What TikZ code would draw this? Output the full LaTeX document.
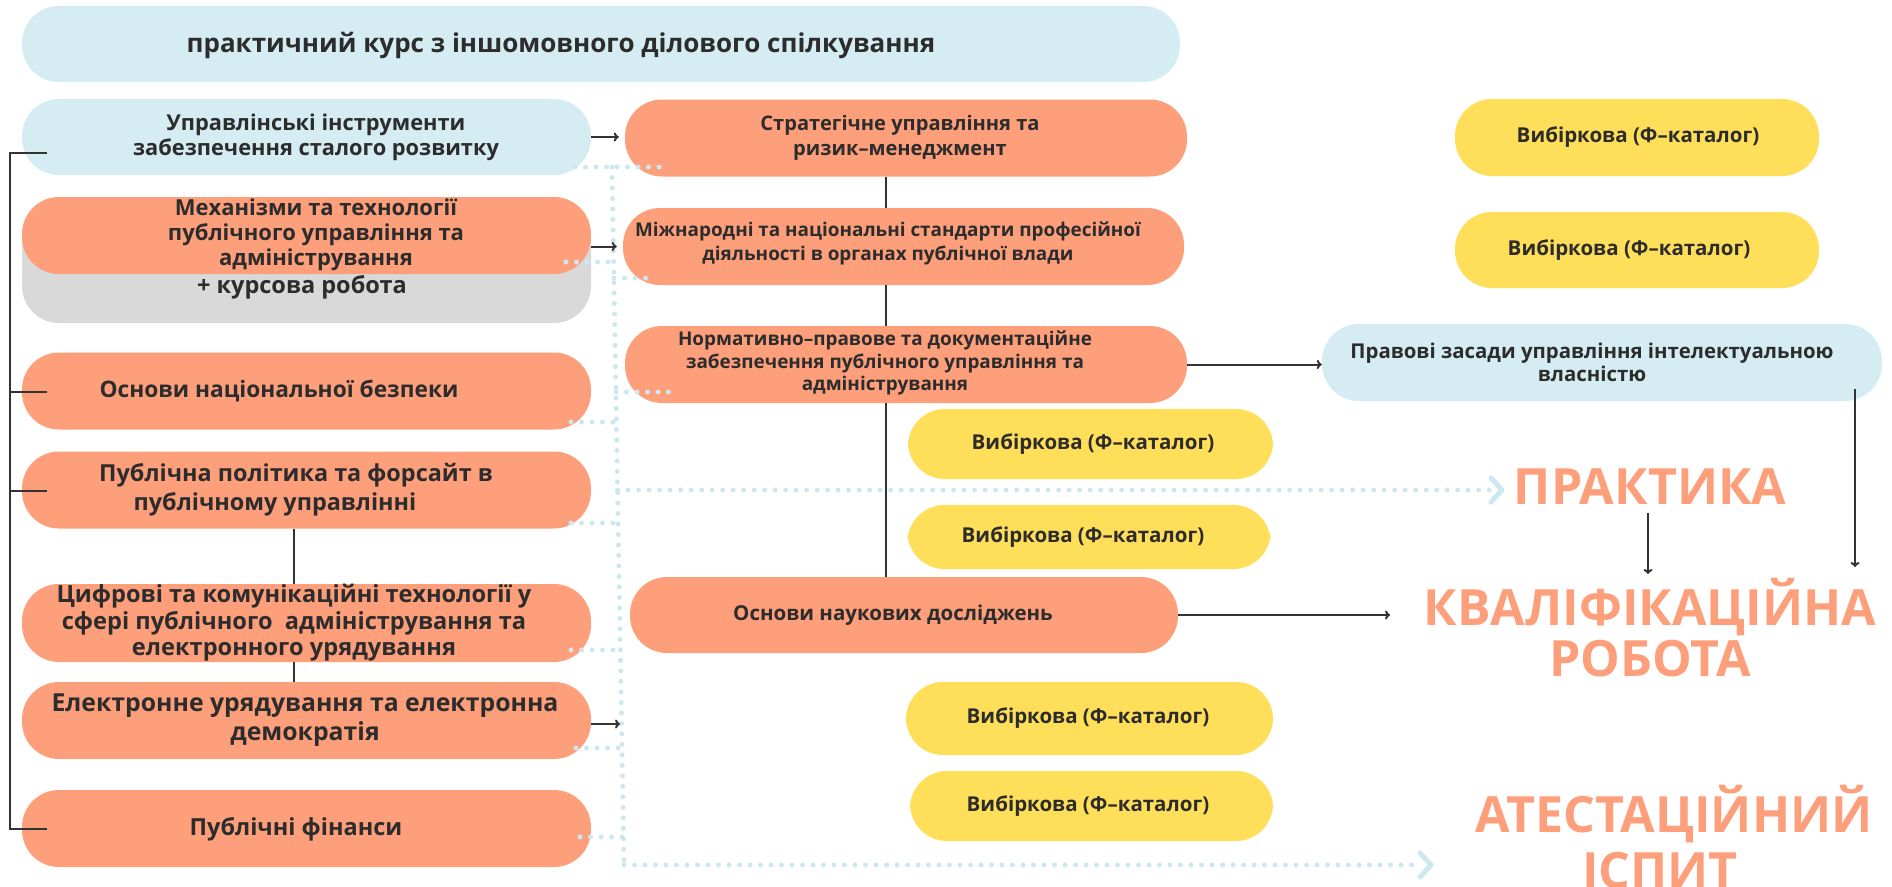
\documentclass[tikz,border=0pt]{standalone}
\usepackage{fontspec}
\setmainfont{Open Sans}
\usetikzlibrary{arrows.meta}
\definecolor{orng}{HTML}{FE9F7B}
\definecolor{lblue}{HTML}{D5ECF3}
\definecolor{ylw}{HTML}{FFDE59}
\definecolor{gry}{HTML}{D9D9D9}
\definecolor{txt}{HTML}{2C2C2C}
\definecolor{arrc}{HTML}{333333}
\definecolor{dotc}{HTML}{CDE7F0}
\newcommand{\fz}[2]{\fontsize{#1}{#2}\selectfont\bfseries}
\tikzset{
  box/.style={draw=none, rounded corners=37pt, inner sep=0pt},
  obox/.style={box, fill=orng},
  bbox/.style={box, fill=lblue},
  ybox/.style={box, fill=ylw},
  gbox/.style={box, fill=gry},
  lbl/.style={align=center, text=txt, inner sep=0pt},
  big/.style={text=orng, inner sep=0pt, anchor=base, font=\fz{50}{58}},
  arr/.style={draw=arrc, line width=2pt, -{To[length=5pt,width=9pt]}},
  conn/.style={draw=arrc, line width=2pt},
  dots/.style={draw=dotc, line width=5pt, line cap=round, dash pattern=on 0pt off 10.5pt},
  chev/.style={draw=dotc, line width=5pt, line cap=round, line join=round},
}
\begin{document}
\begin{tikzpicture}[x=1pt,y=-1pt]
\useasboundingbox (0,0) rectangle (1892,886);
\coordinate (mx) at (886,0);
\coordinate (lx) at (294,0);
% boxes
\node[bbox, minimum width=1158pt, minimum height=76pt] (top) at (601,44) {};
\node[bbox, minimum width=569pt, minimum height=76pt] (L1) at (306.5,137) {};
\node[gbox, minimum width=569pt, minimum height=122pt] (G2) at (306.5,262) {};
\node[obox, minimum width=569pt, minimum height=77pt] (L2) at (306.5,235.5) {};
\node[obox, minimum width=569pt, minimum height=77pt] (L3) at (306.5,391) {};
\node[obox, minimum width=569pt, minimum height=77pt] (L4) at (306.5,490) {};
\node[obox, minimum width=569pt, minimum height=78pt] (L5) at (306.5,623) {};
\node[obox, minimum width=569pt, minimum height=77pt] (L6) at (306.5,720.5) {};
\node[obox, minimum width=569pt, minimum height=77pt] (L7) at (306.5,828.5) {};
\node[obox, minimum width=562pt, minimum height=77pt] (M1) at (906,138) {};
\node[obox, minimum width=561pt, minimum height=77pt] (M2) at (903.5,246.5) {};
\node[obox, minimum width=562pt, minimum height=77pt] (M3) at (906,364.5) {};
\node[obox, minimum width=548pt, minimum height=76pt] (M4) at (904,615) {};
\node[ybox, minimum width=364pt, minimum height=77pt] (Y1) at (1637,137.5) {};
\node[ybox, minimum width=364pt, minimum height=76pt] (Y2) at (1637,250) {};
\node[ybox, minimum width=365pt, minimum height=70pt] (Y3) at (1090.5,444) {};
\node[ybox, minimum width=363pt, minimum height=64pt] (Y4) at (1089,537) {};
\node[ybox, minimum width=367pt, minimum height=73pt] (Y5) at (1089.5,718.5) {};
\node[ybox, minimum width=363pt, minimum height=70pt] (Y6) at (1091.5,806) {};
\node[bbox, minimum width=560pt, minimum height=77pt] (P) at (1602,362.5) {};
% vertical connectors
\draw[conn] (mx |- M1.south) -- (mx |- M2.north);
\draw[conn] (mx |- M2.south) -- (mx |- M3.north);
\draw[conn] (mx |- M3.south) -- (mx |- M4.north);
\draw[conn] (lx |- L4.south) -- (lx |- L5.north);
\draw[conn] (lx |- L5.south) -- (lx |- L6.north);
% labels
\node[lbl, font=\fz{26}{30}] (tTop) at (561,45) {практичний курс з іншомовного ділового спілкування};
\node[lbl, font=\fz{21.8}{25}] (tL1) at (316,137) {Управлінські інструменти\\забезпечення сталого розвитку};
\node[lbl, font=\fz{22}{25}] (tL2) at (316,235) {Механізми та технології\\публічного управління та\\адміністрування};
\node[lbl, font=\fz{23.5}{25}] (tG2) at (302,287) {+ курсова робота};
\node[lbl, font=\fz{22.7}{28}] (tL3) at (279,391) {Основи національної безпеки};
\node[lbl, font=\fz{23.4}{29}] (tL4) at (296,490) {Публічна політика та форсайт в\\публічному управлінні\hspace*{42pt}};
\node[lbl, font=\fz{23.6}{26.5}] (tL5) at (294,623) {Цифрові та комунікаційні технології у\\сфері публічного\ \ адміністрування та\\електронного урядування};
\node[lbl, font=\fz{24.8}{29}] (tL6) at (305,720) {Електронне урядування та електронна\\демократія};
\node[lbl, font=\fz{23.5}{28}] (tL7) at (296,829) {Публічні фінанси};
\node[lbl, font=\fz{20.1}{25}] (tM1) at (900,138) {Стратегічне управління та\\ризик–менеджмент};
\node[lbl, font=\fz{18.9}{24}] (tM2) at (888,243) {Міжнародні та національні стандарти професійної\\діяльності в органах публічної влади};
\node[lbl, font=\fz{18.9}{22.5}] (tM3) at (885,363) {Нормативно–правове та документаційне\\забезпечення публічного управління та\\адміністрування};
\node[lbl, font=\fz{20.5}{25}] (tM4) at (893,615) {Основи наукових досліджень};
\node[lbl, font=\fz{20.5}{25}] (tY1) at (1638,137.5) {Вибіркова (Ф–каталог)};
\node[lbl, font=\fz{20.5}{25}] (tY2) at (1629,250) {Вибіркова (Ф–каталог)};
\node[lbl, font=\fz{20.5}{25}] (tY3) at (1093,444) {Вибіркова (Ф–каталог)};
\node[lbl, font=\fz{20.5}{25}] (tY4) at (1083,537) {Вибіркова (Ф–каталог)};
\node[lbl, font=\fz{20.5}{25}] (tY5) at (1088,718.5) {Вибіркова (Ф–каталог)};
\node[lbl, font=\fz{20.5}{25}] (tY6) at (1088,806) {Вибіркова (Ф–каталог)};
\node[lbl, font=\fz{20.4}{23}] (tP) at (1592,362) {Правові засади управління інтелектуальною\\власністю};
% big texts
\node[big] (prak) at (1650,504) {ПРАКТИКА};
\node[big] (kval) at (1650,625) {КВАЛІФІКАЦІЙНА};
\node[big] (robota) at (1650,676) {РОБОТА};
\node[big] (atest) at (1674,832) {АТЕСТАЦІЙНИЙ};
\node[big] (ispyt) at (1660,888) {ІСПИТ};
% dotted lines
\draw[dots] (612,167) -- (624,865);
\draw[dots] (575,167) -- (668,167);
\draw[dots] (566,262) -- (613.6,262);
\draw[dots] (614,278) -- (655,278);
\draw[dots] (616,392) -- (670,392);
\draw[dots] (571,422) -- (616.4,422);
\draw[dots] (617.6,490) -- (1490,490);
\draw[dots] (571,523) -- (618,523);
\draw[dots] (571,650) -- (620,650);
\draw[dots] (576,748) -- (622,748);
\draw[dots] (580,837) -- (623.5,837);
\draw[dots] (624,865) -- (1420,865);
\coordinate (c1) at (1502,490);
\coordinate (c2) at (1431,865);
\draw[chev] ([shift={(-11,-12)}]c1) -- (c1) -- ([shift={(-11,12)}]c1);
\draw[chev] ([shift={(-11,-12)}]c2) -- (c2) -- ([shift={(-11,12)}]c2);
% arrows
\coordinate (e6) at (620,724);
\coordinate (kvin) at (1390,617);
\coordinate (pa) at (1855,389);
\coordinate (pb) at (1855,567);
\coordinate (ka) at (1648,513);
\coordinate (kb) at (1648,574);
\draw[arr, shorten >=6pt] (L1.east) -- (L1.east -| M1.west);
\draw[arr, shorten >=6pt] (L2.east |- M2.west) -- (M2.west);
\draw[arr] (L6.east |- e6) -- (e6);
\draw[arr] (M3.east) -- (M3.east -| P.west);
\draw[arr] (M4.east) -- (M4.east -| kvin);
\draw[arr] (pa) -- (pb);
\draw[arr] (ka) -- (kb);
% bracket
\coordinate (b1) at (47,153);
\coordinate (b2) at (47,392);
\coordinate (b3) at (47,491);
\coordinate (b4) at (47,829);
\draw[conn] (b1) -- (10,153) -- (10,829) -- (b4);
\draw[conn] (10,392) -- (b2);
\draw[conn] (10,491) -- (b3);
\end{tikzpicture}
\end{document}
